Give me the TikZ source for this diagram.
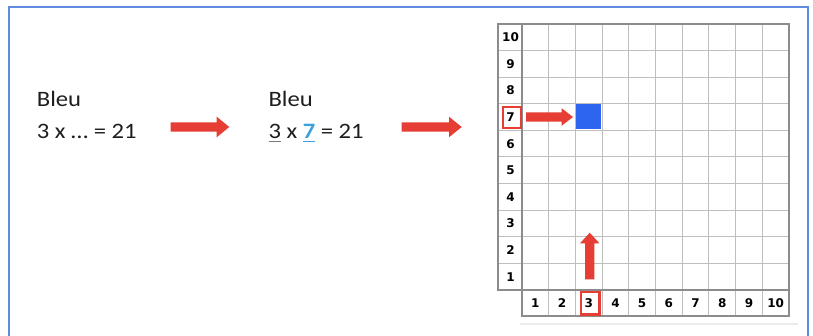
\documentclass[tikz,border=0pt]{standalone}
\usepackage{fontspec}
\setmainfont{Carlito}[FakeStretch=1.12]
\newfontfamily\numfont{DejaVu Sans}
\definecolor{framecol}{RGB}{95,140,225}
\definecolor{txtcol}{RGB}{30,30,30}
\definecolor{redc}{RGB}{230,62,52}
\definecolor{bluesq}{RGB}{45,100,240}
\definecolor{lightblue}{RGB}{60,160,220}
\definecolor{gridin}{RGB}{190,190,190}
\definecolor{gridout}{RGB}{140,140,140}
\definecolor{ulgray}{RGB}{120,120,120}
\newcommand\ulcol[2]{\leavevmode\setbox0\hbox{#2}\rlap{\color{#1}\rule[-4pt]{\wd0}{1.5pt}}\box0\relax}
\begin{document}
\begin{tikzpicture}[x=1pt,y=-1pt,
  bigtxt/.style={inner sep=0pt, anchor=base west, text=txtcol, font=\fontsize{22}{26}\selectfont},
  numlbl/.style={inner sep=0pt, text=black, font=\numfont\bfseries\fontsize{12}{14}\selectfont},
  redbox/.style={draw=redc, line width=2.3pt, inner sep=0pt},
  inline/.style={draw=gridin, line width=1pt},
  outline/.style={draw=gridout, line width=1.5pt},
  blockarrow/.style={fill=redc}]
\useasboundingbox (0,0) rectangle (813,336);
\fill[white] (0,0) rectangle (813,336);
\draw[framecol, line width=1.5pt] (9,336) -- (9,7) -- (808,7) -- (808,336);

% left texts
\node[bigtxt] (t1a) at (36.7,106.7) {Bleu};
\node[bigtxt] (t1b) at (36.7,138.5) {3 x … = 21};
\node[bigtxt] (t2a) at (268.3,106.7) {Bleu};
\node[bigtxt] (t2b) at (268.3,138.5) {\ulcol{ulgray}{3} x \ulcol{lightblue}{\textcolor{lightblue}{\bfseries 7}} = 21};

% big arrows
\fill[blockarrow] (170.7,122.3) -- (216.7,122.3) -- (216.7,116.7) -- (229.3,127) -- (216.7,137.3) -- (216.7,131.7) -- (170.7,131.7) -- cycle;
\fill[blockarrow] (401.7,122.3) -- (449,122.3) -- (449,116.7) -- (461.7,127) -- (449,137.3) -- (449,131.7) -- (401.7,131.7) -- cycle;

% faint line under grid
\draw[draw={rgb,255:red,235;green,235;blue,235}, line width=1.5pt] (520,324) -- (798,324);

% grid inner lines
\foreach \i in {1,...,9} {
  \draw[inline] ({522+\i*26.7},24) -- ({522+\i*26.7},316);
  \draw[inline] (498,{24+\i*26.6}) -- (789,{24+\i*26.6});
}
% blue cell
\fill[bluesq] (576,104) rectangle (601,129.5);
% outer lines
\draw[outline] (498,24) -- (789,24) -- (789,316) -- (522,316) -- (522,290) -- (498,290) -- cycle;
\draw[outline] (522,24) -- (522,316);
\draw[outline] (522,290) -- (789,290);

% labels
\foreach \j in {1,...,10} {
  \node[numlbl] (r\j) at (510.5,{290-(\j-0.5)*26.6}) {\j};
  \node[numlbl] (c\j) at ({522+(\j-0.5)*26.7},303.3) {\j};
}
\node[redbox, minimum width=18pt, minimum height=21pt] (box7) at (512.2,117.5) {};
\node[redbox, minimum width=18.5pt, minimum height=22.5pt] (box3) at (590.3,303.3) {};

% small arrows
\fill[blockarrow] (526,112.3) -- (561.7,112.3) -- (561.7,108.3) -- (573,117) -- (561.7,125.7) -- (561.7,121.7) -- (526,121.7) -- cycle;
\fill[blockarrow] (585,279.3) -- (585,243.3) -- (580,243.3) -- (589.7,232.7) -- (599.4,243.3) -- (594.4,243.3) -- (594.4,279.3) -- cycle;
\end{tikzpicture}
\end{document}
